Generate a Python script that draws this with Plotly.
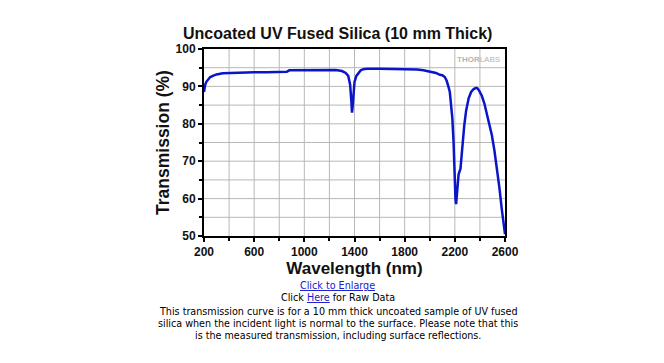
import plotly.graph_objects as go

wavelength_nm = [200, 205, 210, 220, 235, 250, 275, 300, 350, 400, 500, 600, 700, 800, 860, 880,
                 1000, 1100, 1200, 1250, 1300, 1330, 1350, 1365, 1375, 1380, 1385, 1390, 1400, 1415,
                 1430, 1450, 1470, 1500, 1600, 1700, 1800, 1900, 1950, 2000, 2050, 2080, 2100, 2120,
                 2135, 2150, 2160, 2170, 2180, 2190, 2195, 2200, 2205, 2210, 2215, 2220, 2230, 2245,
                 2260, 2275, 2290, 2310, 2330, 2350, 2370, 2380, 2395, 2415, 2435, 2455, 2475, 2495,
                 2515, 2535, 2555, 2575, 2590, 2600]
transmission_pct = [88.5, 89.8, 90.5, 91.3, 92.0, 92.5, 92.9, 93.2, 93.5, 93.6, 93.8, 93.8, 93.8, 93.9,
                    93.9, 94.3, 94.3, 94.4, 94.5, 94.4, 94.1, 93.6, 92.8, 90.5, 86.0, 83.0, 84.5, 88.0,
                    91.2, 92.8, 93.6, 94.3, 94.6, 94.7, 94.7, 94.7, 94.6, 94.5, 94.3, 94.0, 93.6, 93.1,
                    93.0, 92.5, 91.5, 89.8, 88.5, 85.0, 81.5, 75.0, 69.0, 64.0, 60.0, 58.5, 60.5, 64.5,
                    66.5, 68.0, 74.0, 79.5, 83.5, 86.8, 88.5, 89.3, 89.6, 89.5, 88.8, 87.5, 85.5, 82.8,
                    80.0, 77.0, 73.0, 68.5, 63.0, 57.0, 53.0, 50.5]

x_range = [200, 2600]
x_tick_step = 400
y_range = [50, 100]
y_tick_step = 10

title_text = "Uncoated UV Fused Silica (10 mm Thick)"
x_title = "Wavelength (nm)"
y_title = "Transmission (%)"
caption_lines = [
    "This transmission curve is for a 10 mm thick uncoated sample of UV fused",
    "silica when the incident light is normal to the surface. Please note that this",
    "is the measured transmission, including surface reflections.",
]

W, H = 664, 363
L, R, T, B = 204, 505, 49, 236
GRID = "#B8B8B8"

fig = go.Figure()
fig.add_trace(go.Scatter(x=wavelength_nm, y=transmission_pct, mode="lines",
                         line=dict(color="#0A14C8", width=2.5), hoverinfo="skip"))

# grid lines every half tick step, drawn as shapes in data coordinates below the trace
xg = x_range[0] + x_tick_step / 2
while xg < x_range[1]:
    fig.add_shape(type="line", xref="x", yref="paper", x0=xg, x1=xg, y0=0, y1=1,
                  line=dict(color=GRID, width=1), layer="below")
    xg += x_tick_step / 2
yg = y_range[0] + y_tick_step / 2
while yg < y_range[1]:
    fig.add_shape(type="line", xref="paper", yref="y", x0=0, x1=1, y0=yg, y1=yg,
                  line=dict(color=GRID, width=1), layer="below")
    yg += y_tick_step / 2

bold_tick = dict(family="Arial, Liberation Sans", size=12, color="#111", weight="bold")
fig.update_xaxes(range=x_range, tickmode="linear", tick0=x_range[0], dtick=x_tick_step,
                 ticks="outside", ticklen=4, tickwidth=2,
                 tickcolor="black", tickfont=bold_tick,
                 showline=True, linecolor="black", linewidth=2, mirror=True,
                 showgrid=False,
                 minor=dict(dtick=x_tick_step / 2, showgrid=False,
                            ticks="outside", ticklen=3, tickcolor="black", tickwidth=1.5),
                 title=dict(text="<b>" + x_title + "</b>", font=dict(family="Arial, Liberation Sans", size=17, color="#111"),
                            standoff=3),
                 zeroline=False)
fig.update_yaxes(range=y_range, tickmode="linear", tick0=y_range[0], dtick=y_tick_step,
                 ticks="outside", ticklen=4, tickwidth=2,
                 tickcolor="black", tickfont=bold_tick,
                 showline=True, linecolor="black", linewidth=2, mirror=True,
                 showgrid=False,
                 minor=dict(dtick=y_tick_step / 2, showgrid=False,
                            ticks="outside", ticklen=3, tickcolor="black", tickwidth=1.5),
                 title=dict(text="<b>" + y_title + "</b>", font=dict(family="Arial, Liberation Sans", size=17.5, color="#111"),
                            standoff=1),
                 zeroline=False)

ph = B - T
def py(pix):
    return (B - pix) / ph

cap_font = dict(family="DejaVu Sans", size=9.6, color="black")
annotations = [
    dict(text="<b>" + title_text + "</b>", xref="paper", yref="paper", x=0.445, y=py(33),
         xanchor="center", yanchor="middle", showarrow=False,
         font=dict(family="Arial, Liberation Sans", size=16, color="#111")),
    dict(text="<b>THOR</b>LABS", xref="paper", yref="paper", x=0.99, y=py(59),
         xanchor="right", yanchor="middle", showarrow=False,
         font=dict(family="Arial, Liberation Sans", size=8, color="#B4B4B4")),
    dict(text="<u>Click to Enlarge</u>", xref="paper", yref="paper", x=0.445, y=py(285),
         xanchor="center", yanchor="middle", showarrow=False,
         font=dict(family="DejaVu Sans", size=9.6, color="#1A1ACC")),
    dict(text="Click <span style='color:#1A1ACC'><u>Here</u></span> for Raw Data", xref="paper", yref="paper",
         x=0.445, y=py(297), xanchor="center", yanchor="middle", showarrow=False,
         font=cap_font),
]
for i, line in enumerate(caption_lines):
    annotations.append(dict(text=line, xref="paper", yref="paper", x=0.445, y=py(311 + 12.2 * i),
                            xanchor="center", yanchor="middle", showarrow=False,
                            font=cap_font))

fig.update_layout(width=W, height=H, margin=dict(l=L, r=W - R, t=T, b=H - B),
                  paper_bgcolor="white", plot_bgcolor="white", showlegend=False,
                  annotations=annotations)

fig.write_html("out.html", config={"displayModeBar": False},
               post_script="document.body.style.margin='0';document.body.style.padding='0';")
